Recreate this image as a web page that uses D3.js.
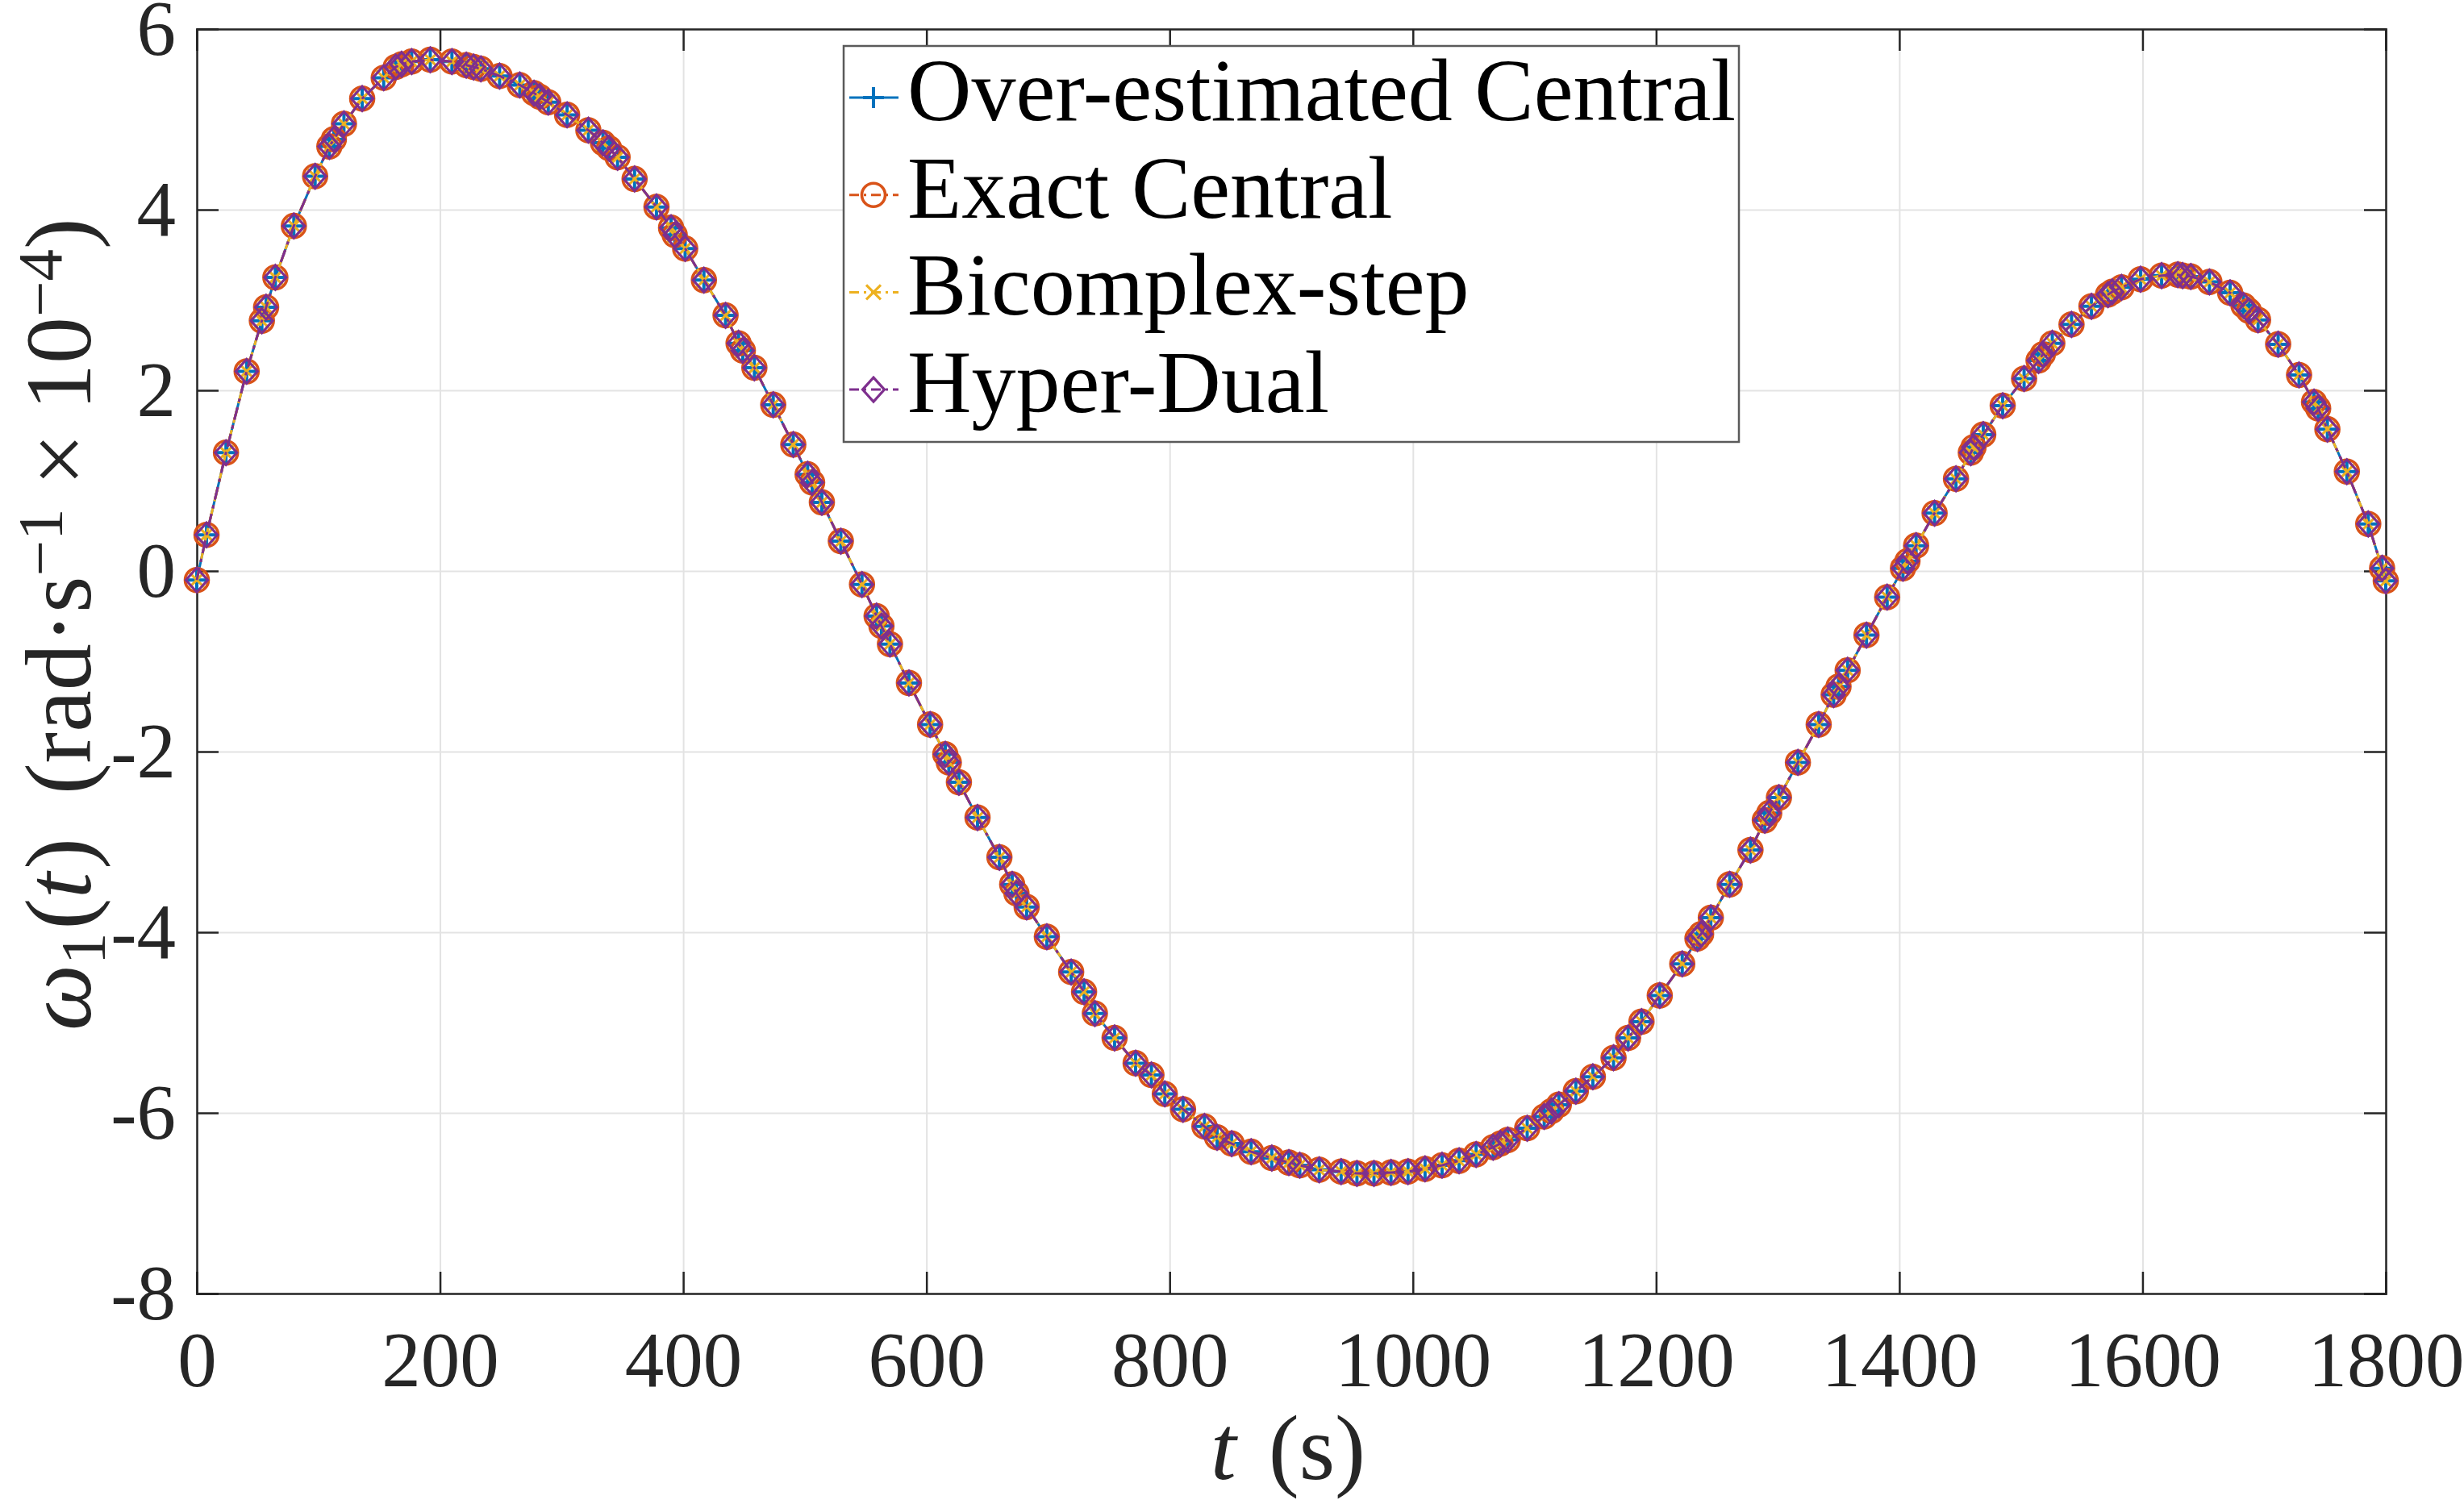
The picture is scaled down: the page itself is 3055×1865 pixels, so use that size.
<!DOCTYPE html>
<html>
<head>
<meta charset="utf-8">
<script src="https://cdn.jsdelivr.net/npm/d3@7"></script>
<style>
  body { margin: 0; background: #fff; }
  text { font-family: "Liberation Serif", "Times New Roman", serif; fill: #262626; }
  .axis path, .axis line { stroke: #262626; stroke-width: 2.5; }
  .grid line { stroke: #e3e3e3; stroke-width: 2; }
  .grid path { display: none; }
</style>
</head>
<body>
<div id="chart"></div>
<script>
// time samples (s) and omega_1 values (x 1e-4 rad/s);
// the four methods overlap to plotting precision so they share one set of values
const tValues = [0, 8, 24, 41, 53.5, 57, 64.6, 79.8, 97.3, 109,
  112.7, 121, 136, 153.7, 163.6, 168.4, 176.7, 192, 209.8, 221.6,
  227.6, 233.6, 249, 265.6, 277.3, 282, 289, 304.5, 322, 334,
  339, 346, 360, 378, 390, 393, 401.6, 417, 434.8, 445.5,
  449, 458.5, 474, 490.5, 502.3, 506, 514, 529.6, 547, 559,
  563, 570, 585.6, 603, 615.5, 618.4, 626.7, 642, 660, 670.5,
  674, 682.4, 699, 719, 729.6, 738.5, 754.7, 772, 785, 796,
  811, 828.6, 839, 851, 867, 884, 898, 907, 923, 941,
  954, 968, 982, 996, 1010, 1024, 1038, 1052, 1066, 1072,
  1078, 1094, 1108, 1114, 1120, 1134, 1148, 1165, 1177, 1188,
  1203, 1221.5, 1234, 1237, 1245, 1260.5, 1277.6, 1289.4, 1293, 1301,
  1316.6, 1333.7, 1346, 1350, 1357.5, 1373, 1390, 1403, 1406.7, 1413.8,
  1429, 1446.6, 1458.8, 1461, 1469, 1485, 1502.6, 1514.5, 1518, 1525.8,
  1541.6, 1558, 1571.6, 1575, 1582.7, 1598.4, 1615.7, 1629, 1633, 1639.7,
  1655, 1672, 1683, 1687.5, 1695, 1711.5, 1728.7, 1741, 1744.4, 1752,
  1768, 1785.6, 1797, 1800];

const omegaValues = [-0.10, 0.40, 1.31, 2.21, 2.77, 2.92, 3.25, 3.82, 4.37, 4.70,
  4.78, 4.95, 5.23, 5.46, 5.58, 5.61, 5.64, 5.66, 5.64, 5.60,
  5.58, 5.56, 5.48, 5.38, 5.29, 5.25, 5.19, 5.05, 4.88, 4.74,
  4.68, 4.58, 4.34, 4.03, 3.80, 3.72, 3.57, 3.22, 2.83, 2.52,
  2.44, 2.25, 1.84, 1.40, 1.07, 0.98, 0.76, 0.33, -0.15, -0.50,
  -0.61, -0.81, -1.24, -1.70, -2.03, -2.12, -2.34, -2.73, -3.17, -3.47,
  -3.57, -3.72, -4.05, -4.44, -4.66, -4.90, -5.17, -5.45, -5.58, -5.79,
  -5.96, -6.15, -6.27, -6.34, -6.43, -6.50, -6.55, -6.58, -6.63, -6.65,
  -6.67, -6.67, -6.66, -6.65, -6.62, -6.58, -6.53, -6.46, -6.38, -6.34,
  -6.30, -6.17, -6.04, -5.98, -5.91, -5.76, -5.60, -5.39, -5.17, -4.99,
  -4.70, -4.35, -4.07, -4.02, -3.84, -3.47, -3.09, -2.76, -2.68, -2.51,
  -2.12, -1.70, -1.37, -1.28, -1.10, -0.71, -0.29, 0.03, 0.11, 0.28,
  0.64, 1.02, 1.31, 1.37, 1.51, 1.83, 2.13, 2.33, 2.40, 2.52,
  2.73, 2.93, 3.06, 3.09, 3.14, 3.23, 3.27, 3.28, 3.27, 3.26,
  3.20, 3.08, 2.94, 2.88, 2.78, 2.51, 2.17, 1.87, 1.80, 1.57,
  1.10, 0.52, 0.03, -0.11];

const seriesNames = ['Over-estimated Central', 'Exact Central', 'Bicomplex-step', 'Hyper-Dual'];
const seriesColors = ['#0072BD', '#D95319', '#EDB120', '#7E2F8E'];
const seriesDash = [null, '16,7,4,7', '16,9', '16,7,4,7'];
const seriesMarkers = ['plus', 'circle', 'cross', 'diamond'];

const xTicks = [0, 200, 400, 600, 800, 1000, 1200, 1400, 1600, 1800];
const yTicks = [-8, -6, -4, -2, 0, 2, 4, 6];

const W = 3055, H = 1865;
const margin = { top: 36, right: 97, bottom: 261, left: 244 };
const width = W - margin.left - margin.right;
const height = H - margin.top - margin.bottom;

const data = tValues.map((t, i) => ({ t: t, w: omegaValues[i] }));

const svg = d3.select('#chart')
    .append('svg')
    .attr('width', W)
    .attr('height', H)
    .style('background', '#fff');

const g = svg.append('g')
    .attr('transform', `translate(${margin.left},${margin.top})`);

const xScale = d3.scaleLinear().domain([0, 1800]).range([0, width]);
const yScale = d3.scaleLinear().domain([-8, 6]).range([height, 0]);

// grid
g.append('g')
    .attr('class', 'grid')
    .attr('transform', `translate(0,${height})`)
    .call(d3.axisBottom(xScale).tickValues(xTicks).tickSize(-height).tickFormat(''));
g.append('g')
    .attr('class', 'grid')
    .call(d3.axisLeft(yScale).tickValues(yTicks).tickSize(-width).tickFormat(''));

// axes with inward ticks
const tickLen = 27;
const fmt = d => (d < 0 ? '-' + Math.abs(d) : String(d));

const xAxis = g.append('g')
    .attr('class', 'axis')
    .attr('transform', `translate(0,${height})`)
    .call(d3.axisBottom(xScale).tickValues(xTicks).tickSize(-tickLen).tickPadding(46).tickFormat(fmt));
xAxis.selectAll('text').style('font-size', '97px');

const yAxis = g.append('g')
    .attr('class', 'axis')
    .call(d3.axisLeft(yScale).tickValues(yTicks).tickSize(-tickLen).tickPadding(26).tickFormat(fmt));
yAxis.selectAll('text').style('font-size', '97px');

g.append('g')
    .attr('class', 'axis')
    .call(d3.axisTop(xScale).tickValues(xTicks).tickSize(-tickLen).tickFormat(''));
g.append('g')
    .attr('class', 'axis')
    .attr('transform', `translate(${width},0)`)
    .call(d3.axisRight(yScale).tickValues(yTicks).tickSize(-tickLen).tickFormat(''));

// marker shapes
const markerPath = {
    plus: 'M-13,0H13M0,-13V13',
    cross: 'M-9,-9L9,9M-9,9L9,-9',
    diamond: 'M0,-15L13.5,0L0,15L-13.5,0Z'
};

function drawMarker(sel, type, color) {
    if (type === 'circle') {
        sel.append('circle').attr('r', 14.5)
            .attr('fill', 'none').attr('stroke', color).attr('stroke-width', 3.6);
    } else {
        sel.append('path').attr('d', markerPath[type])
            .attr('fill', 'none').attr('stroke', color)
            .attr('stroke-width', type === 'plus' ? 4 : 3.2);
    }
}

const line = d3.line()
    .x(d => xScale(d.t))
    .y(d => yScale(d.w));

seriesNames.forEach((name, k) => {
    const sg = g.append('g');
    sg.append('path')
        .datum(data)
        .attr('d', line)
        .attr('fill', 'none')
        .attr('stroke', seriesColors[k])
        .attr('stroke-width', 3)
        .attr('stroke-dasharray', seriesDash[k]);
    const m = sg.selectAll('.m' + k)
        .data(data)
        .enter()
        .append('g')
        .attr('transform', d => `translate(${xScale(d.t)},${yScale(d.w)})`);
    drawMarker(m, seriesMarkers[k], seriesColors[k]);
});

// legend
const legend = svg.append('g').attr('transform', 'translate(1046,57)');
legend.append('rect')
    .attr('width', 1110).attr('height', 491)
    .attr('fill', '#fff').attr('stroke', '#5a5a5a').attr('stroke-width', 2.5);

seriesNames.forEach((name, k) => {
    const rowY = 64 + k * 120.7;
    const row = legend.append('g');
    row.append('line')
        .attr('x1', 7).attr('x2', 68).attr('y1', rowY).attr('y2', rowY)
        .attr('stroke', seriesColors[k]).attr('stroke-width', 3)
        .attr('stroke-dasharray', seriesDash[k] ? '12,6,3,6' : null);
    const mk = row.append('g').attr('transform', `translate(37,${rowY})`);
    drawMarker(mk, seriesMarkers[k], seriesColors[k]);
    row.append('text')
        .attr('x', 79).attr('y', rowY + 28)
        .style('font-size', '110px')
        .style('fill', '#000')
        .text(name);
});

// axis labels
const xLabel = svg.append('text')
    .attr('x', margin.left + width / 2 - 4)
    .attr('y', 1834)
    .attr('text-anchor', 'middle')
    .style('font-size', '114px');
xLabel.append('tspan').style('font-style', 'italic').text('t');
xLabel.append('tspan').attr('dx', 40).text('(s)');

const yLabel = svg.append('text')
    .attr('transform', 'translate(112,1278) rotate(-90)')
    .attr('text-anchor', 'start')
    .style('font-size', '116px');
yLabel.append('tspan').style('font-style', 'italic').text('\u03c9');
yLabel.append('tspan').attr('dy', 17).style('font-size', '79px').text('1');
yLabel.append('tspan').attr('dy', -17).attr('dx', 4).text('(');
yLabel.append('tspan').style('font-style', 'italic').text('t');
yLabel.append('tspan').attr('dx', 4).text(')');
yLabel.append('tspan').attr('dx', 54).text('(rad\u00b7s');
yLabel.append('tspan').attr('dy', -36).style('font-size', '79px').text('\u22121');
yLabel.append('tspan').attr('dy', 36).attr('dx', 28).text('\u00d7');
yLabel.append('tspan').attr('dx', 28).text('10');
yLabel.append('tspan').attr('dy', -36).style('font-size', '79px').text('\u22124');
yLabel.append('tspan').attr('dy', 36).text(')');
</script>
</body>
</html>
